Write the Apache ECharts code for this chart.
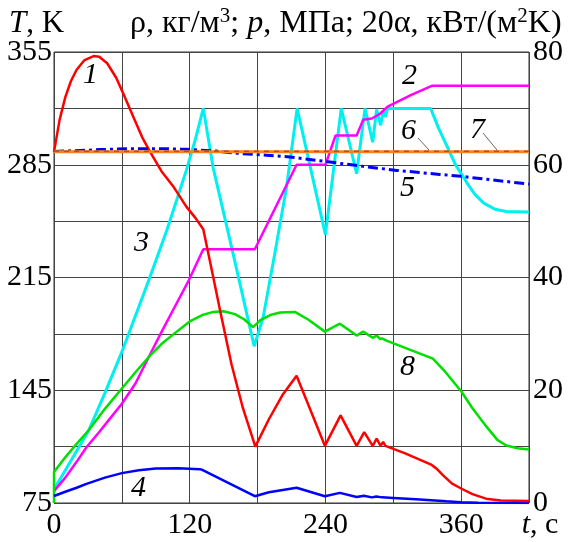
<!DOCTYPE html>
<html>
<head>
<meta charset="utf-8">
<script src="https://cdn.jsdelivr.net/npm/echarts@6/dist/echarts.min.js"></script>
<style>
  html, body { margin: 0; padding: 0; background: #fff; }
  #chart { width: 571px; height: 542px; }
</style>
</head>
<body>
<div id="chart"></div>
<script>
// 1 - T, K (left axis)
var t1 = [0, 5, 10, 15, 20, 27, 35, 40, 47, 55, 62, 70, 78, 85, 95, 105, 117, 125, 132, 140, 147, 157, 167, 178, 190, 202, 214.5, 239.5, 253.4, 267.6, 274.3, 281.8, 285.3, 288.8, 291, 293, 294, 310, 333, 338, 345, 352, 360, 370, 382, 395, 420];
var v1 = [293, 313, 327, 337, 344, 350, 352.5, 352, 348, 339, 328, 315, 302, 293, 281, 272, 259, 252, 245, 218, 194, 161, 134, 110, 127, 142, 154, 110.5, 129.4, 110.5, 119, 110.5, 115, 110.5, 113, 110.5, 111, 106, 99, 96.5, 91.5, 87, 84, 80.5, 77.7, 76.5, 76.2];
// 2 - rho (right axis)
var t2 = [0, 10, 20, 28.7, 40, 50, 60, 72, 83.8, 94.2, 106, 119.2, 132, 177.6, 214.5, 240, 249, 267.6, 273.4, 281, 288, 295, 315, 334, 420];
var v2 = [2.1, 4.5, 7.3, 9.9, 12.6, 15.1, 17.6, 21.2, 25.9, 30, 34.5, 39.5, 45, 45, 60, 60, 65.2, 65.2, 68, 68.2, 69, 70.3, 72.3, 74, 74];
// 3 - p (right axis)
var t3 = [0, 10, 20, 30.7, 45, 60, 83.8, 100, 117, 125, 132, 140.7, 158.4, 177, 185, 195, 205.6, 215, 240, 254, 267.6, 275, 281.8, 285.3, 288.8, 291.2, 293, 295, 333, 340, 348.6, 355, 360.5, 366, 372, 380, 390, 400, 420];
var v3 = [2.4, 5.8, 9.2, 12.9, 19.5, 26.8, 39.5, 48.5, 59, 64.5, 70, 59.5, 44.2, 27.8, 33, 44, 56, 70, 47.6, 70, 58.4, 70, 64, 69.8, 67, 69.6, 68.5, 70, 70, 66.5, 62.8, 60, 58.3, 56.5, 54.8, 53.2, 52.1, 51.7, 51.6];
// 4 (right axis)
var t4 = [0, 10, 20, 28.7, 45, 60, 75, 90, 110, 129, 132, 155, 177.6, 190, 214.5, 239.5, 252.8, 267.6, 274, 281, 285, 290, 300, 320, 347, 360, 375, 420];
var v4 = [1.24, 2, 2.7, 3.4, 4.5, 5.3, 5.8, 6.1, 6.15, 6, 5.8, 3.5, 1.2, 1.9, 2.7, 1.2, 1.8, 1.06, 1.3, 1, 1.15, 1, 0.9, 0.65, 0.3, 0.15, 0.05, 0];
// 5 (left axis)
var t5 = [0, 28.7, 40, 70, 93.5, 117, 143.7, 158.4, 188, 208.6, 244, 273, 303, 341, 360, 420];
var v5 = [293.3, 294, 294.4, 295, 295, 294.6, 293.5, 292.3, 290.9, 289.8, 286.7, 284, 281.5, 279, 277.8, 273];
// 6, 7 (left axis)
var t6 = [0, 420];
var v6 = [293, 293];
var t7 = [0, 420];
var v7 = [293.4, 293.4];
// 8 - 20 alpha (right axis)
var t8 = [0, 0, 10, 20, 30.7, 45, 60, 72, 83.8, 95, 106, 120, 132, 141, 150, 160, 168, 176, 183, 192, 200, 213, 225, 239.5, 252.8, 267.6, 273.4, 281.8, 285.3, 288.2, 290, 294, 335, 345, 360.5, 370, 382.6, 392, 400, 410, 420];
var v8 = [0, 5.5, 8.1, 10.5, 12.9, 16.7, 20.3, 23.2, 25.9, 28.2, 30, 32.2, 33.4, 33.9, 34, 33.5, 32.6, 31.2, 32.5, 33.4, 33.8, 33.9, 32.5, 30.4, 31.8, 29.7, 30.4, 29.3, 29.7, 29.1, 29.2, 28.8, 25.6, 23.5, 19.7, 16.8, 13.5, 11.2, 10.2, 9.7, 9.5];

function pairs(t, v) {
  return t.map(function (x, i) { return [x, v[i]]; });
}

var serif = 'Liberation Serif';
var myChart = echarts.init(document.getElementById('chart'));

function line(data, color, yIdx, extra) {
  var s = {
    type: 'line',
    data: data,
    yAxisIndex: yIdx,
    showSymbol: false,
    symbol: 'none',
    animation: false,
    lineStyle: { color: color, width: 2.5 }
  };
  if (extra) {
    for (var k in extra) s.lineStyle[k] = extra[k];
  }
  return s;
}

function numLabel(txt, x, y) {
  return {
    type: 'text', left: x, top: y,
    style: { text: txt, fontFamily: serif, fontStyle: 'italic', fontSize: 30, fill: '#000' }
  };
}

var rn = { n: { fontFamily: serif, fontSize: 30, color: '#000' } };

var option = {
  backgroundColor: '#fff',
  animation: false,
  textStyle: { fontFamily: serif },
  grid: { left: 54, right: 42, top: 52, bottom: 39, show: true, borderColor: '#333', borderWidth: 1 },
  xAxis: {
    type: 'value', min: 0, max: 420, interval: 60,
    axisLine: { show: false }, axisTick: { show: false },
    splitLine: { show: true, lineStyle: { color: '#444', width: 1 } },
    axisLabel: {
      margin: 7, color: '#000', fontFamily: serif, fontSize: 30,
      formatter: function (v) {
        if (v === 420) return '{i|t}{n|, c}';
        return v % 120 === 0 ? '{n|' + v + '}' : '';
      },
      rich: {
        i: { fontStyle: 'italic', fontFamily: serif, fontSize: 30, color: '#000', padding: [0, 0, 0, 22] },
        n: { fontFamily: serif, fontSize: 30, color: '#000' }
      }
    }
  },
  yAxis: [{
    type: 'value', min: 75, max: 355, interval: 35,
    axisLine: { show: false }, axisTick: { show: false },
    splitLine: { show: true, lineStyle: { color: '#444', width: 1 } },
    axisLabel: {
      margin: 2, color: '#000', fontFamily: serif, fontSize: 30, rich: rn,
      formatter: function (v) { return (v - 75) % 70 === 0 ? '{n|' + v + '}' : ''; }
    }
  }, {
    type: 'value', min: 0, max: 80, interval: 10, position: 'right',
    axisLine: { show: false }, axisTick: { show: false },
    splitLine: { show: false },
    axisLabel: {
      margin: 4, color: '#000', fontFamily: serif, fontSize: 30, rich: rn,
      formatter: function (v) { return v % 20 === 0 ? '{n|' + v + '}' : ''; }
    }
  }],
  series: [
    line(pairs(t3, v3), '#00f0f0', 1, { width: 3 }),
    line(pairs(t2, v2), '#ff00ff', 1),
    line(pairs(t8, v8), '#00e000', 1),
    line(pairs(t4, v4), '#0000ff', 1),
    line(pairs(t1, v1), '#ff0000', 0),
    line(pairs(t5, v5), '#0000ff', 0, { width: 3, type: [10, 4, 3, 4] }),
    line(pairs(t6, v6), '#f58220', 0, { width: 3 }),
    line(pairs(t7, v7), '#b0503a', 0, { width: 1.5, type: [5, 5] })
  ],
  graphic: [
    {
      type: 'text', left: 9, top: 8,
      style: {
        text: '{i|T}{n|, K}', fill: '#000',
        rich: {
          i: { fontStyle: 'italic', fontFamily: serif, fontSize: 31 },
          n: { fontFamily: serif, fontSize: 31 }
        }
      }
    },
    {
      type: 'text', left: 130, top: 6,
      style: {
        text: '{n|ρ, кг/м}{s|3}{n|; }{i|p}{n|, МПа; 20α, кВт/(м}{s|2}{n|K)}',
        fill: '#000',
        rich: {
          n: { fontFamily: serif, fontSize: 32 },
          s: { fontFamily: serif, fontSize: 21, padding: [0, 0, 14, 0] },
          i: { fontStyle: 'italic', fontFamily: serif, fontSize: 32 }
        }
      }
    },
    numLabel('1', 83, 60),
    numLabel('2', 402, 61),
    numLabel('3', 134, 228),
    numLabel('4', 131, 473),
    numLabel('5', 400, 173),
    numLabel('6', 401, 116),
    numLabel('7', 470, 115),
    numLabel('8', 400, 352),
    { type: 'line', shape: { x1: 418, y1: 138, x2: 429, y2: 150 }, style: { stroke: '#666', lineWidth: 1 } },
    { type: 'line', shape: { x1: 483, y1: 133, x2: 497, y2: 150 }, style: { stroke: '#666', lineWidth: 1 } }
  ]
};

myChart.setOption(option);
</script>
</body>
</html>
